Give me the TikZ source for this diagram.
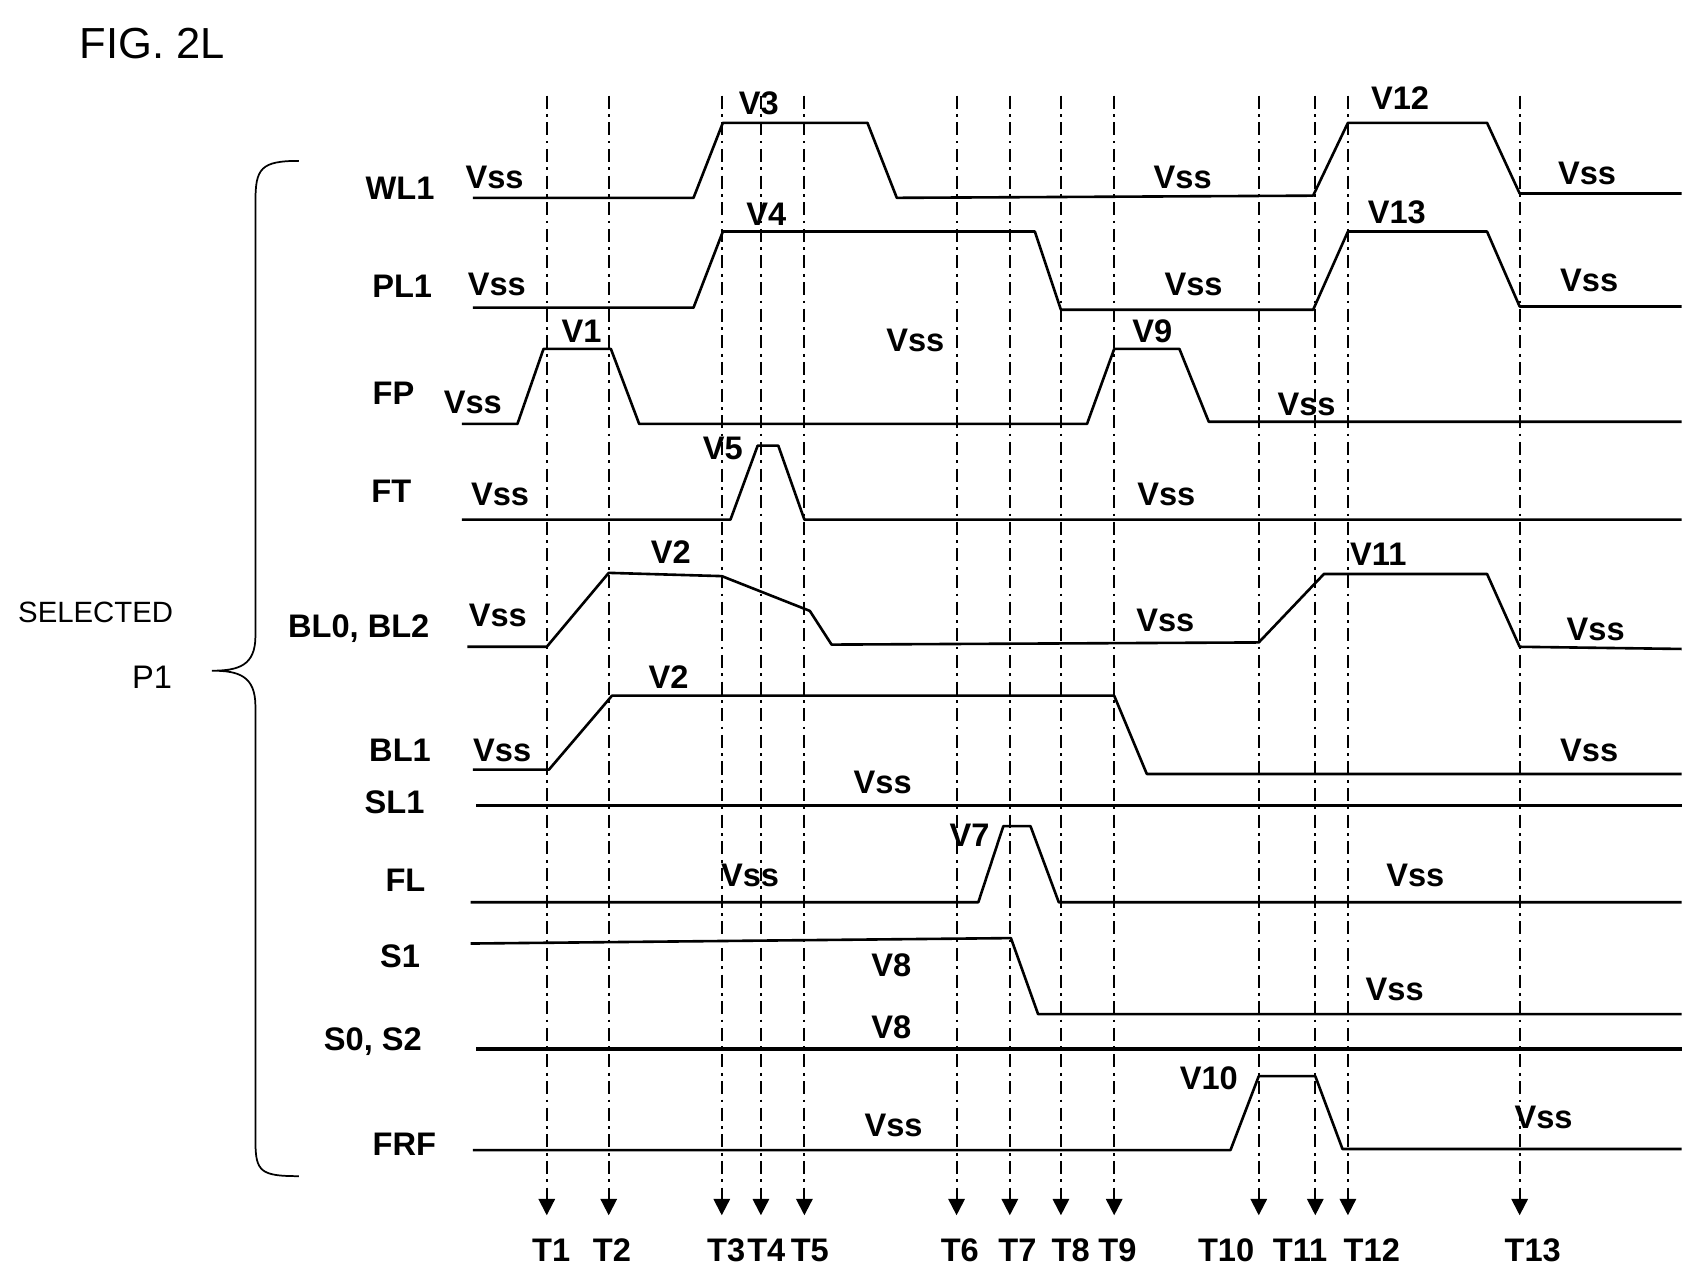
\documentclass[tikz,border=0pt]{standalone}
\usepackage{fontspec}
\setmainfont{Liberation Sans}
\usetikzlibrary{arrows.meta}
\begin{document}
\begin{tikzpicture}[x=1pt,y=-1pt,
  sig/.style={line width=2.4pt,line join=round},
  bus/.style={line width=3.4pt},
  tl/.style={line width=1.8pt,dash pattern=on 12pt off 5pt on 2.5pt off 5pt,-{Triangle[width=15pt,length=15pt]}},
  lab/.style={font=\fontsize{30}{34}\selectfont\bfseries,inner sep=0pt},
  nm/.style={font=\fontsize{30}{34}\selectfont\bfseries,inner sep=0pt}]
\useasboundingbox (0,0) rectangle (1563,1180);
\node[font=\fontsize{40}{44}\selectfont,inner sep=0pt] (fig) at (140,40) {FIG. 2L};
% timing lines
\foreach \x/\n/\lx in {503/T1/507,560/T2/563,664/T3/668,700/T4/705,740/T5/745,880/T6/883,929/T7/936,976/T8/985,1025/T9/1028,1158/T10/1128,1210/T11/1196,1240/T12/1262,1398/T13/1410}{
  \coordinate (a\n) at (\x,88);
  \coordinate (b\n) at (\x,1118);
  \draw[tl] (a\n) -- (b\n);
  \node[lab] (l\n) at (\lx,1150) {\n};
}
% WL1
\draw[sig] (435,182) -- (638,182) -- (665,113) -- (798,113) -- (825,182) -- (1208,180) -- (1240,113) -- (1368,113) -- (1398,178) -- (1547,178);
\node[nm] (nWL) at (368,173) {WL1};
\node[lab] at (455,163) {Vss}; \node[lab] at (698,95) {V3}; \node[lab] at (1088,163) {Vss}; \node[lab] at (1288,90) {V12}; \node[lab] at (1460,160) {Vss};
% PL1
\draw[sig] (435,283) -- (638,283) -- (665,213) -- (952,213) -- (976,285) -- (1208,285) -- (1240,213) -- (1368,213) -- (1398,282) -- (1547,282);
\node[nm] (nPL) at (370,263) {PL1};
\node[lab] at (457,262) {Vss}; \node[lab] at (705,197) {V4}; \node[lab] at (1098,262) {Vss}; \node[lab] at (1285,195) {V13}; \node[lab] at (1462,258) {Vss};
% FP
\draw[sig] (425,390) -- (476,390) -- (500,321) -- (562,321) -- (588,390) -- (1000,390) -- (1025,321) -- (1085,321) -- (1112,388) -- (1547,388);
\node[nm] (nFP) at (362,362) {FP};
\node[lab] at (435,370) {Vss}; \node[lab] at (535,305) {V1}; \node[lab] at (842,313) {Vss}; \node[lab] at (1060,305) {V9}; \node[lab] at (1202,372) {Vss};
% FT
\draw[sig] (425,478) -- (672,478) -- (697,410) -- (716,410) -- (740,478) -- (1547,478);
\node[nm] (nFT) at (360,452) {FT};
\node[lab] at (460,455) {Vss}; \node[lab] at (665,413) {V5}; \node[lab] at (1073,455) {Vss};
% BL0,BL2
\draw[sig] (430,595) -- (503,595) -- (560,527) -- (664,530) -- (745,562) -- (765,593) -- (1158,591) -- (1218,528) -- (1368,528) -- (1398,595) -- (1547,597);
\node[nm] (nBL0) at (330,578) {BL0, BL2};
\node[lab] at (458,566) {Vss}; \node[lab] at (617,508) {V2}; \node[lab] at (1072,571) {Vss}; \node[lab] at (1268,510) {V11}; \node[lab] at (1468,579) {Vss};
% BL1
\draw[sig] (435,708) -- (505,708) -- (563,640) -- (1025,640) -- (1055,712) -- (1547,712);
\node[nm] (nBL1) at (368,690) {BL1};
\node[lab] at (462,690) {Vss}; \node[lab] at (615,623) {V2}; \node[lab] at (1462,690) {Vss};
% SL1
\draw[bus] (438,741) -- (1547,741);
\node[nm] (nSL) at (363,738) {SL1};
\node[lab] at (812,720) {Vss};
% FL
\draw[sig] (433,830) -- (900,830) -- (923,760) -- (948,760) -- (974,830) -- (1547,830);
\node[nm] (nFL) at (373,810) {FL};
\node[lab] at (690,805) {Vss}; \node[lab] at (892,768) {V7}; \node[lab] at (1302,805) {Vss};
% S1
\draw[sig] (433,868) -- (930,863) -- (955,933) -- (1547,933);
\node[nm] (nS1) at (368,880) {S1};
\node[lab] at (820,888) {V8}; \node[lab] at (1283,910) {Vss};
% S0,S2
\draw[bus] (438,965) -- (1547,965);
\node[nm] (nS0) at (343,958) {S0, S2};
\node[lab] at (820,945) {V8};
% FRF
\draw[sig] (435,1058) -- (1132,1058) -- (1158,990) -- (1210,990) -- (1235,1057) -- (1547,1057);
\node[nm] (nFRF) at (372,1053) {FRF};
\node[lab] at (1112,992) {V10}; \node[lab] at (822,1035) {Vss}; \node[lab] at (1420,1028) {Vss};
% brace
\draw[line width=1.6pt] (275,148) .. controls (240,148) and (235,155) .. (235,185) -- (235,585) .. controls (235,612) and (220,617) .. (195,617) .. controls (220,617) and (235,622) .. (235,650) -- (235,1050) .. controls (235,1078) and (240,1082) .. (275,1082);
\node[font=\fontsize{27}{30}\selectfont,inner sep=0pt] (sel) at (88,563) {SELECTED};
\node[font=\fontsize{30}{34}\selectfont,inner sep=0pt] (p1) at (140,623) {P1};
\end{tikzpicture}
\end{document}
